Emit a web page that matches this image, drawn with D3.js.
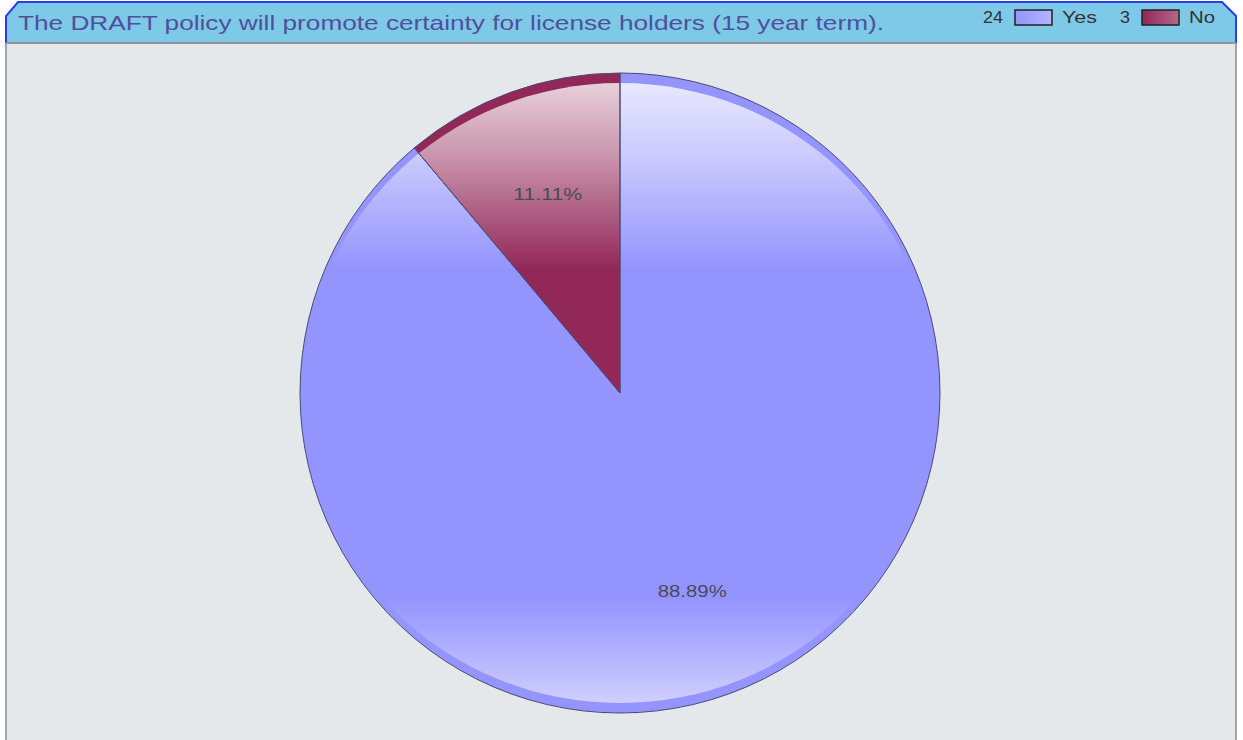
<!DOCTYPE html>
<html><head><meta charset="utf-8">
<script src="https://cdn.jsdelivr.net/npm/d3@7/dist/d3.min.js"></script>
<style>body{margin:0;background:#fff;} svg{display:block;}</style>
</head><body>
<script>
const title = "The DRAFT policy will promote certainty for license holders (15 year term).";
const categories = ["Yes", "No"];
const counts = [24, 3];
const colors = ["#9494fe", "#922858"];

const W = 1243, H = 740;
const svg = d3.select("body").append("svg").attr("width", W).attr("height", H)
  .style("font-family", "'Liberation Sans', Arial, sans-serif");
const defs = svg.append("defs");

// body panel
svg.append("rect").attr("x", 6).attr("y", 43).attr("width", 1230).attr("height", 700)
  .attr("fill", "#e4e8eb").attr("stroke", "#a0a4a8").attr("stroke-width", 2);

// header
const hdr = "M6,43 L6,16 L18,2 L1222,2 L1236,16 L1236,43 Z";
svg.append("path").attr("d", hdr).attr("fill", "#7ec8e8");
svg.append("path").attr("d", "M6,43 L6,16 L18,2 L1222,2 L1236,16 L1236,43")
  .attr("fill", "none").attr("stroke", "#2a3cf0").attr("stroke-width", 2);
svg.append("line").attr("x1", 6).attr("x2", 1236).attr("y1", 43).attr("y2", 43)
  .attr("stroke", "#909498").attr("stroke-width", 2);

svg.append("text").attr("x", 18).attr("y", 30).attr("font-size", 21)
  .attr("textLength", 866).attr("lengthAdjust", "spacingAndGlyphs")
  .attr("fill", "#50509a").text(title);

// legend
const legX = [1003, 1130];
const legW = [35, 26];
categories.forEach((c, i) => {
  const g = svg.append("g");
  g.append("text").attr("x", legX[i]).attr("y", 23).attr("text-anchor", "end")
    .attr("font-size", 17).attr("fill", "#333")
    .attr("textLength", String(counts[i]).length * 10).attr("lengthAdjust", "spacingAndGlyphs")
    .text(counts[i]);
  const gid = "leg" + i;
  const lg = defs.append("linearGradient").attr("id", gid);
  lg.append("stop").attr("offset", 0).attr("stop-color", colors[i]);
  lg.append("stop").attr("offset", 1).attr("stop-color", d3.interpolateRgb(colors[i], "#fff")(0.3));
  g.append("rect").attr("x", legX[i] + 12).attr("y", 10).attr("width", 37).attr("height", 15)
    .attr("fill", `url(#${gid})`).attr("stroke", "#222").attr("stroke-width", 1.5);
  g.append("text").attr("x", legX[i] + 59).attr("y", 23).attr("font-size", 17)
    .attr("textLength", legW[i]).attr("lengthAdjust", "spacingAndGlyphs")
    .attr("fill", "#333").text(c);
});

// pie
const cx = 620, cy = 393, r = 320;
const total = d3.sum(counts);
const pie = d3.pie().sort(null).value(d => d)(counts);
const arc = d3.arc().innerRadius(0).outerRadius(r);
const g = svg.append("g").attr("transform", `translate(${cx},${cy})`);

g.selectAll("path.base").data(pie).join("path").attr("class", "base")
  .attr("d", arc).attr("fill", (d, i) => colors[i]);

// glossy overlay
const ri = r - 10;
const gr = defs.append("linearGradient").attr("id", "gloss")
  .attr("gradientUnits", "userSpaceOnUse").attr("x1", 0).attr("x2", 0).attr("y1", -ri).attr("y2", ri);
[[0, 0.78], [0.12, 0.5], [0.3, 0], [0.83, 0], [0.88, 0.15], [1, 0.55]].forEach(s =>
  gr.append("stop").attr("offset", s[0]).attr("stop-color", "#fff").attr("stop-opacity", s[1]));
defs.append("clipPath").attr("id", "inner").append("ellipse")
  .attr("cx", 0).attr("cy", 0).attr("rx", r - 3).attr("ry", ri);
g.append("rect").attr("x", -r).attr("y", -r).attr("width", 2 * r).attr("height", 2 * r)
  .attr("fill", "url(#gloss)").attr("clip-path", "url(#inner)");

// outlines
g.selectAll("path.edge").data(pie).join("path").attr("class", "edge")
  .attr("d", arc).attr("fill", "none").attr("stroke", "#4a4a78").attr("stroke-width", 1);

// labels
const lab = d3.arc().innerRadius(r * 0.66).outerRadius(r * 0.66);
g.selectAll("text.pct").data(pie).join("text").attr("class", "pct")
  .attr("transform", d => `translate(${lab.centroid(d)})`)
  .attr("text-anchor", "middle").attr("dy", "0.35em")
  .attr("font-size", 17).attr("fill", "#4a4a5a")
  .attr("textLength", 69).attr("lengthAdjust", "spacingAndGlyphs")
  .text(d => (d.value / total * 100).toFixed(2) + "%");
</script>
</body></html>
